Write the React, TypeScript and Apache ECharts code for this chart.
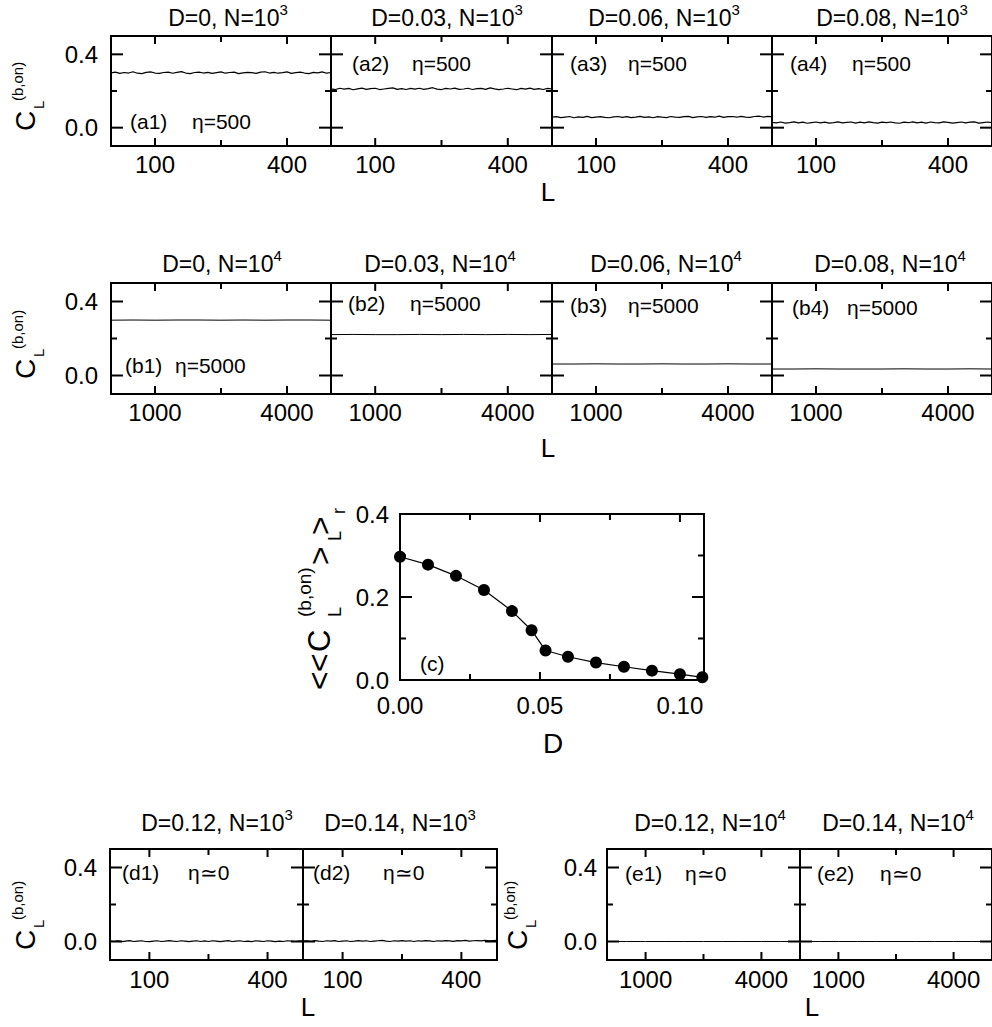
import React, { useEffect, useRef } from "react";
import * as echarts from "echarts";

const FONT = "'Liberation Sans', Arial, Helvetica, sans-serif";

// ---------------- data ----------------
const titlesRowA = ["D=0, N=10{s|3}", "D=0.03, N=10{s|3}", "D=0.06, N=10{s|3}", "D=0.08, N=10{s|3}"];
const titlesRowB = ["D=0, N=10{s|4}", "D=0.03, N=10{s|4}", "D=0.06, N=10{s|4}", "D=0.08, N=10{s|4}"];
const titlesRowD = ["D=0.12, N=10{s|3}", "D=0.14, N=10{s|3}"];
const titlesRowE = ["D=0.12, N=10{s|4}", "D=0.14, N=10{s|4}"];
const tagsRowA = ["(a1)", "(a2)", "(a3)", "(a4)"];
const tagsRowB = ["(b1)", "(b2)", "(b3)", "(b4)"];
const tagsRowD = ["(d1)", "(d2)"];
const tagsRowE = ["(e1)", "(e2)"];
const etaRowA = "η=500";
const etaRowB = "η=5000";
const etaRowDE = "η≃0";

const smallLLabels = [100, 400];
const smallLMajor = [100, 400];
const smallLMinor = [250];
const largeLLabels = [1000, 4000];
const largeLMajor = [1000, 4000];
const largeLMinor = [2500];
const cLLabels = [0, 0.4];
const cLMajor = [0, 0.4];
const cLMinor = [0.2];

const cXLabels = [0, 0.05, 0.1];
const cXMajor = [0.05, 0.1];
const cXMinor = [0.025, 0.075];
const cYLabels = [0, 0.2, 0.4];
const cYMajor = [0.2];
const cYMinor = [0.1, 0.3];

// panel (c): <<C_L>_L>_r versus D
const cD = [0, 0.01, 0.02, 0.03, 0.04, 0.047, 0.052, 0.06, 0.07, 0.08, 0.09, 0.1, 0.108];
const cC = [0.297, 0.278, 0.251, 0.217, 0.166, 0.12, 0.071, 0.056, 0.042, 0.032, 0.0225, 0.014, 0.0065];

// row (a): N=10^3, L = 0..500
const a1 = [
  0.299, 0.303, 0.296, 0.301, 0.298, 0.305, 0.297, 0.295, 0.302, 0.304,
  0.298, 0.296, 0.301, 0.303, 0.297, 0.302, 0.306, 0.298, 0.295, 0.301,
  0.303, 0.298, 0.302, 0.296, 0.3, 0.304, 0.297, 0.301, 0.303, 0.295,
  0.299, 0.302, 0.3, 0.296, 0.303, 0.305, 0.298, 0.302, 0.297, 0.3,
  0.304, 0.296, 0.3, 0.303, 0.298, 0.295, 0.302, 0.299, 0.304, 0.297, 0.301,
];
const a2 = [
  0.212, 0.208, 0.215, 0.21, 0.214, 0.207, 0.212, 0.216, 0.209, 0.213,
  0.215, 0.208, 0.211, 0.214, 0.217, 0.209, 0.213, 0.208, 0.214, 0.21,
  0.215, 0.209, 0.213, 0.218, 0.21, 0.208, 0.214, 0.211, 0.216, 0.209,
  0.211, 0.215, 0.208, 0.213, 0.214, 0.209, 0.217, 0.212, 0.208, 0.211,
  0.215, 0.211, 0.207, 0.214, 0.21, 0.216, 0.209, 0.213, 0.208, 0.214, 0.211,
];
const a3 = [
  0.057, 0.06, 0.055, 0.058, 0.061, 0.054, 0.059, 0.056, 0.062, 0.055,
  0.058, 0.06, 0.056, 0.054, 0.059, 0.061, 0.056, 0.06, 0.055, 0.058,
  0.062, 0.056, 0.059, 0.054, 0.06, 0.057, 0.055, 0.061, 0.058, 0.056,
  0.06, 0.062, 0.055, 0.059, 0.061, 0.056, 0.06, 0.057, 0.063, 0.056,
  0.06, 0.061, 0.057, 0.062, 0.058, 0.056, 0.061, 0.063, 0.058, 0.062, 0.06,
];
const a4 = [
  0.029, 0.026, 0.031, 0.025, 0.028, 0.032, 0.026, 0.03, 0.024, 0.028,
  0.031, 0.026, 0.03, 0.025, 0.028, 0.032, 0.026, 0.029, 0.031, 0.025,
  0.03, 0.026, 0.032, 0.028, 0.025, 0.03, 0.027, 0.031, 0.026, 0.024,
  0.03, 0.027, 0.032, 0.026, 0.03, 0.025, 0.031, 0.027, 0.026, 0.032,
  0.029, 0.025, 0.028, 0.031, 0.026, 0.03, 0.032, 0.025, 0.028, 0.031, 0.027,
];
// row (b): N=10^4, L = 0..5000
const b1 = [0.299, 0.3, 0.299, 0.3, 0.3, 0.299, 0.3, 0.299, 0.3, 0.3, 0.299];
const b2 = [0.221, 0.222, 0.221, 0.221, 0.222, 0.221, 0.222, 0.221, 0.222, 0.221, 0.222];
const b3 = [0.062, 0.062, 0.063, 0.062, 0.062, 0.063, 0.062, 0.062, 0.063, 0.062, 0.062];
const b4 = [0.035, 0.035, 0.036, 0.035, 0.035, 0.035, 0.036, 0.035, 0.035, 0.036, 0.035];
// row (d): N=10^3, L = 0..490
const d1 = [
  0.002, 0.0, 0.004, -0.001, 0.002, 0.005, 0.0, 0.002, 0.004, 0.0,
  -0.001, 0.002, 0.004, 0.0, 0.002, 0.005, 0.002, 0.0, 0.004, 0.002,
  -0.001, 0.002, 0.004, 0.0, 0.003, 0.0, 0.004, 0.002, -0.001, 0.002,
  0.005, 0.0, 0.002, 0.004, 0.0, 0.002, -0.001, 0.004, 0.002, 0.0,
  0.004, 0.002, -0.001, 0.002, 0.0, 0.004, 0.002, 0.0, 0.002, 0.004,
];
const d2 = [
  0.002, 0.004, 0.0, 0.005, 0.002, 0.0, 0.004, 0.002, 0.005, 0.0,
  0.002, 0.004, 0.0, 0.002, 0.005, 0.002, 0.004, 0.0, 0.002, 0.004,
  0.006, 0.002, 0.0, 0.004, 0.002, 0.005, 0.002, 0.004, 0.0, 0.004,
  0.002, 0.005, 0.003, 0.0, 0.004, 0.002, 0.005, 0.003, 0.001, 0.005,
  0.003, 0.006, 0.002, 0.004, 0.005, 0.003, 0.006, 0.003, 0.005, 0.006,
];
// row (e): N=10^4, L = 0..5000
const e1 = [0, 0, 0, 0, 0, 0, 0, 0, 0, 0, 0];
const e2 = [0, 0, 0, 0, 0, 0, 0, 0, 0, 0, 0];

// ---------------- helpers ----------------
type Panel = {
  box: number[];
  xMin: number;
  xMax: number;
  xMajor: number[];
  xMinor: number[];
  xLabels: number[];
  xFmt: (v: number) => string;
  xMargin: number;
  yMin: number;
  yMax: number;
  yMajor: number[];
  yMinor: number[];
  yLabels: number[] | null;
  yFmt: (v: number) => string;
  yMargin: number;
  data: number[][];
  dots?: boolean;
  lineWidth?: number;
};

const spread = (vals: number[], x0: number, x1: number) =>
  vals.map((v, i) => [x0 + ((x1 - x0) * i) / (vals.length - 1), v]);

const fmtInt = (v: number) => String(Math.round(v));
const fmt1 = (v: number) => v.toFixed(1);
const fmt2 = (v: number) => v.toFixed(2);

function txt(x: number, y: number, text: string, fontSize: number, align = "left", rotation = 0) {
  return {
    type: "text",
    x,
    y,
    rotation,
    silent: true,
    z: 100,
    style: {
      text,
      fill: "#000",
      fontSize,
      fontFamily: FONT,
      textAlign: align,
      textVerticalAlign: "middle",
      align,
      verticalAlign: "middle",
    },
  };
}

function richTitle(x: number, y: number, text: string) {
  return {
    type: "text",
    x,
    y,
    silent: true,
    z: 100,
    style: {
      text,
      fill: "#000",
      fontSize: 23,
      fontFamily: FONT,
      lineHeight: 32,
      textAlign: "center",
      textVerticalAlign: "middle",
      align: "center",
      verticalAlign: "middle",
      rich: {
        s: { fontSize: 15, fontFamily: FONT, fill: "#000", lineHeight: 14, verticalAlign: "top" },
      },
    },
  };
}

const ROT = Math.PI / 2;
function yNameCL(x: number, y: number) {
  return [
    txt(x, y, "C", 28, "left", ROT),
    txt(x + 13, y - 22, "L", 15, "left", ROT),
    txt(x - 8.5, y - 30, "(b,on)", 15, "left", ROT),
  ];
}

function buildPanels(): Panel[] {
  const panels: Panel[] = [];
  const rowLefts = [111, 331, 552, 772];
  const rowWidths = [220, 221, 220, 221];
  const rowA = [a1, a2, a3, a4];
  const rowB = [b1, b2, b3, b4];

  rowA.forEach((vals, i) => {
    panels.push({
      box: [rowLefts[i], 36, rowWidths[i], 110],
      xMin: 0, xMax: 500, xMajor: smallLMajor, xMinor: smallLMinor, xLabels: smallLLabels, xFmt: fmtInt, xMargin: 6,
      yMin: -0.1, yMax: 0.5, yMajor: cLMajor, yMinor: cLMinor, yLabels: i === 0 ? cLLabels : null, yFmt: fmt1, yMargin: 13,
      data: spread(vals, 0, 500), lineWidth: 1.2,
    });
  });
  rowB.forEach((vals, i) => {
    panels.push({
      box: [rowLefts[i], 283, rowWidths[i], 111],
      xMin: 0, xMax: 5000, xMajor: largeLMajor, xMinor: largeLMinor, xLabels: largeLLabels, xFmt: fmtInt, xMargin: 6,
      yMin: -0.1, yMax: 0.5, yMajor: cLMajor, yMinor: cLMinor, yLabels: i === 0 ? cLLabels : null, yFmt: fmt1, yMargin: 13,
      data: spread(vals, 0, 5000), lineWidth: 1,
    });
  });
  panels.push({
    box: [400, 514, 304, 166],
    xMin: 0, xMax: 0.1086, xMajor: cXMajor, xMinor: cXMinor, xLabels: cXLabels, xFmt: fmt2, xMargin: 13,
    yMin: 0, yMax: 0.4, yMajor: cYMajor, yMinor: cYMinor, yLabels: cYLabels, yFmt: fmt1, yMargin: 11,
    data: cD.map((d, i) => [d, cC[i]]), dots: true, lineWidth: 1.2,
  });
  [d1, d2].forEach((vals, i) => {
    panels.push({
      box: [[110, 303][i], 849, [193, 194][i], 111],
      xMin: 0, xMax: 490, xMajor: smallLMajor, xMinor: smallLMinor, xLabels: smallLLabels, xFmt: fmtInt, xMargin: 7,
      yMin: -0.1, yMax: 0.5, yMajor: cLMajor, yMinor: cLMinor, yLabels: i === 0 ? cLLabels : null, yFmt: fmt1, yMargin: 13,
      data: spread(vals, 0, 490), lineWidth: 1.2,
    });
  });
  [e1, e2].forEach((vals, i) => {
    panels.push({
      box: [[607, 800][i], 849, 193, 111],
      xMin: 0, xMax: 5000, xMajor: largeLMajor, xMinor: largeLMinor, xLabels: largeLLabels, xFmt: fmtInt, xMargin: 7,
      yMin: -0.1, yMax: 0.5, yMajor: cLMajor, yMinor: cLMinor, yLabels: i === 0 ? cLLabels : null, yFmt: fmt1, yMargin: 10,
      data: spread(vals, 0, 5000), lineWidth: 1,
    });
  });
  return panels;
}

function buildTexts() {
  const graphic: any[] = [];
  [228, 447, 664, 892].forEach((x, i) => graphic.push(richTitle(x, 18, titlesRowA[i])));
  [222, 440, 666, 890].forEach((x, i) => graphic.push(richTitle(x, 264, titlesRowB[i])));
  [217, 400].forEach((x, i) => graphic.push(richTitle(x, 823, titlesRowD[i])));
  [710, 898].forEach((x, i) => graphic.push(richTitle(x, 823, titlesRowE[i])));

  const tagPos = [
    [tagsRowA[0], 130, 121, 192, etaRowA],
    [tagsRowA[1], 352, 63, 412, etaRowA],
    [tagsRowA[2], 570, 63, 628, etaRowA],
    [tagsRowA[3], 790, 63, 852, etaRowA],
    [tagsRowB[0], 125, 365, 175, etaRowB],
    [tagsRowB[1], 348, 303, 410, etaRowB],
    [tagsRowB[2], 570, 305, 628, etaRowB],
    [tagsRowB[3], 792, 307, 847, etaRowB],
    [tagsRowD[0], 122, 872, 188, etaRowDE],
    [tagsRowD[1], 313, 872, 383, etaRowDE],
    [tagsRowE[0], 625, 873, 685, etaRowDE],
    [tagsRowE[1], 817, 873, 880, etaRowDE],
  ] as [string, number, number, number, string][];
  tagPos.forEach(([t, x, y, ex, eta]) => {
    graphic.push(txt(x, y, t, 21));
    graphic.push(txt(ex, y, eta, 21));
  });
  graphic.push(txt(420, 663, "(c)", 21));

  graphic.push(txt(548, 192, "L", 26, "center"));
  graphic.push(txt(548, 448, "L", 26, "center"));
  graphic.push(txt(553, 743, "D", 28, "center"));
  graphic.push(txt(308, 1007, "L", 26, "center"));
  graphic.push(txt(812, 1007, "L", 26, "center"));

  graphic.push(...yNameCL(25.5, 131));
  graphic.push(...yNameCL(25.5, 379));
  graphic.push(...yNameCL(25.5, 950));
  graphic.push(...yNameCL(517.5, 950));

  graphic.push(txt(319, 690, "<", 32, "left", ROT));
  graphic.push(txt(319, 672, "<", 32, "left", ROT));
  graphic.push(txt(319, 652, "C", 31, "left", ROT));
  graphic.push(txt(304, 617, "(b,on)", 19, "left", ROT));
  graphic.push(txt(335, 617, "L", 18, "left", ROT));
  graphic.push(txt(320, 565, ">", 32, "left", ROT));
  graphic.push(txt(335, 541, "L", 18, "left", ROT));
  graphic.push(txt(320, 535, ">", 32, "left", ROT));
  graphic.push(txt(339, 514, "r", 18, "left", ROT));
  return graphic;
}

function buildOption(panels: Panel[]) {
  const grid: any[] = [];
  const xAxis: any[] = [];
  const yAxis: any[] = [];
  const series: any[] = [];
  panels.forEach((p, gi) => {
    const [left, top, width, height] = p.box;
    grid.push({ left, top, width, height, show: true, borderColor: "#000", borderWidth: 2, backgroundColor: "transparent" });
    xAxis.push({
      type: "value", gridIndex: gi, position: "bottom", min: p.xMin, max: p.xMax,
      axisLine: { show: false, onZero: false }, splitLine: { show: false }, axisTick: { show: false },
      axisLabel: { show: true, customValues: p.xLabels.slice(), formatter: p.xFmt, fontSize: 24, color: "#000", fontFamily: FONT, margin: p.xMargin },
    });
    yAxis.push({
      type: "value", gridIndex: gi, position: "left", min: p.yMin, max: p.yMax,
      axisLine: { show: false, onZero: false }, splitLine: { show: false }, axisTick: { show: false },
      axisLabel: p.yLabels
        ? { show: true, customValues: p.yLabels.slice(), formatter: p.yFmt, fontSize: 24, color: "#000", fontFamily: FONT, margin: p.yMargin }
        : { show: false },
    });
    series.push({
      type: "line", xAxisIndex: gi, yAxisIndex: gi, data: p.data, silent: true, clip: !p.dots, z: 3,
      symbol: p.dots ? "circle" : "none", showSymbol: !!p.dots, symbolSize: 12,
      itemStyle: { color: "#000" }, lineStyle: { color: "#000", width: p.lineWidth || 1 },
    });
  });
  return { animation: false, backgroundColor: "#fff", grid, xAxis, yAxis, series, graphic: buildTexts() };
}

// tick marks on all four sides, positioned through the chart's own scales
function buildTicks(chart: any, panels: Panel[]) {
  const out: any[] = [];
  const seg = (x1: number, y1: number, x2: number, y2: number) => ({
    type: "rect",
    silent: true,
    z: 200,
    shape: { x: Math.min(x1, x2) - (x1 === x2 ? 1 : 0), y: Math.min(y1, y2) - (y1 === y2 ? 1 : 0), width: Math.max(Math.abs(x2 - x1), 2), height: Math.max(Math.abs(y2 - y1), 2) },
    style: { fill: "#000" },
  });
  panels.forEach((p, gi) => {
    const finder = { gridIndex: gi };
    const xt = (vals: number[], len: number) =>
      vals.forEach((v) => {
        const b = chart.convertToPixel(finder, [v, p.yMin]);
        const t = chart.convertToPixel(finder, [v, p.yMax]);
        if (!b || !t) return;
        out.push(seg(b[0], b[1], b[0], b[1] - len));
        out.push(seg(t[0], t[1], t[0], t[1] + len));
      });
    const yt = (vals: number[], len: number) =>
      vals.forEach((v) => {
        const l = chart.convertToPixel(finder, [p.xMin, v]);
        const r = chart.convertToPixel(finder, [p.xMax, v]);
        if (!l || !r) return;
        out.push(seg(l[0], l[1], l[0] + len, l[1]));
        out.push(seg(r[0], r[1], r[0] - len, r[1]));
      });
    xt(p.xMajor, 8);
    xt(p.xMinor, 6);
    yt(p.yMajor, 12);
    yt(p.yMinor, 6);
  });
  return out;
}

export default function App() {
  const ref = useRef<HTMLDivElement>(null);
  useEffect(() => {
    document.body.style.margin = "0";
    const chart = echarts.init(ref.current!, null, { renderer: "svg", width: 992, height: 1027 });
    const panels = buildPanels();
    const option: any = buildOption(panels);
    chart.setOption(option);
    const ticks = buildTicks(chart, panels);
    chart.setOption({ graphic: [...option.graphic, ...ticks] }, { replaceMerge: ["graphic"] } as any);
    return () => chart.dispose();
  }, []);
  return (
    <div
      ref={ref}
      style={{ position: "absolute", left: 0, top: 0, width: 992, height: 1027, background: "#fff" }}
    />
  );
}
